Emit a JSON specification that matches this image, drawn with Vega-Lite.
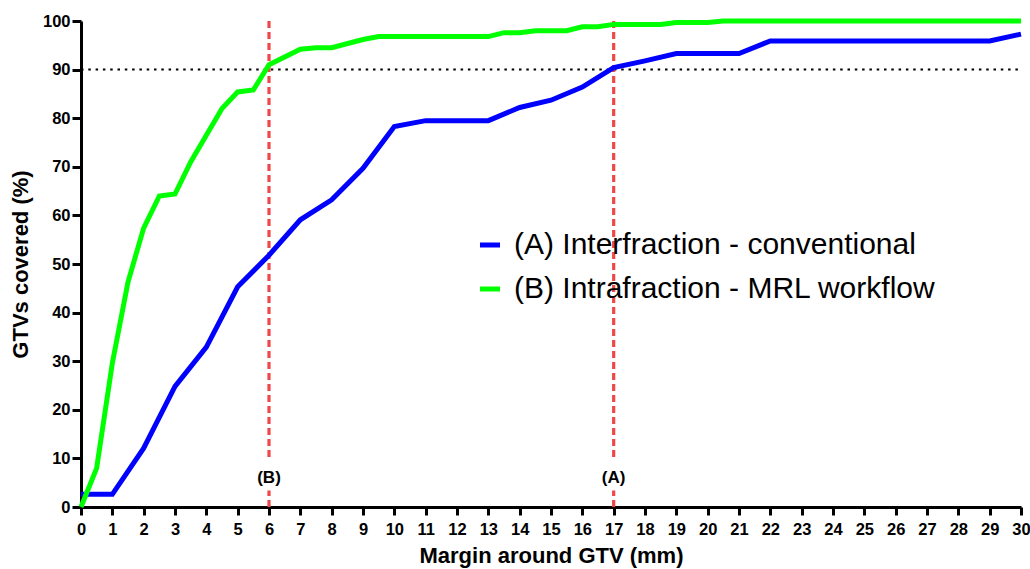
{
  "$schema": "https://vega.github.io/schema/vega-lite/v6.json",
  "width": 940,
  "height": 486,
  "autosize": "none",
  "padding": {"left": 81, "top": 21, "right": 9, "bottom": 62},
  "background": "white",
  "config": {
    "view": {"stroke": null},
    "legend": {
      "orient": "none",
      "legendX": 394,
      "legendY": 209,
      "symbolType": "stroke",
      "symbolStrokeWidth": 5,
      "symbolSize": 400,
      "labelFont": "Liberation Sans",
      "labelFontSize": 30,
      "labelColor": "black",
      "labelLimit": 700,
      "rowPadding": 14,
      "labelOffset": 9,
      "padding": 0
    }
  },
  "datasets": {
    "curves": [
      {"series": "(A) Interfraction - conventional", "x": 0, "y": 2.6},
      {"series": "(A) Interfraction - conventional", "x": 1, "y": 2.6},
      {"series": "(A) Interfraction - conventional", "x": 2, "y": 12.1},
      {"series": "(A) Interfraction - conventional", "x": 3, "y": 24.8},
      {"series": "(A) Interfraction - conventional", "x": 4, "y": 32.9},
      {"series": "(A) Interfraction - conventional", "x": 5, "y": 45.3},
      {"series": "(A) Interfraction - conventional", "x": 6, "y": 51.8},
      {"series": "(A) Interfraction - conventional", "x": 7, "y": 59.1},
      {"series": "(A) Interfraction - conventional", "x": 8, "y": 63.2},
      {"series": "(A) Interfraction - conventional", "x": 9, "y": 69.7},
      {"series": "(A) Interfraction - conventional", "x": 10, "y": 78.3},
      {"series": "(A) Interfraction - conventional", "x": 11, "y": 79.5},
      {"series": "(A) Interfraction - conventional", "x": 13, "y": 79.5},
      {"series": "(A) Interfraction - conventional", "x": 14, "y": 82.2},
      {"series": "(A) Interfraction - conventional", "x": 15, "y": 83.7},
      {"series": "(A) Interfraction - conventional", "x": 16, "y": 86.4},
      {"series": "(A) Interfraction - conventional", "x": 17, "y": 90.4},
      {"series": "(A) Interfraction - conventional", "x": 18, "y": 91.8},
      {"series": "(A) Interfraction - conventional", "x": 19, "y": 93.3},
      {"series": "(A) Interfraction - conventional", "x": 21, "y": 93.3},
      {"series": "(A) Interfraction - conventional", "x": 22, "y": 95.9},
      {"series": "(A) Interfraction - conventional", "x": 29, "y": 95.9},
      {"series": "(A) Interfraction - conventional", "x": 30, "y": 97.3},
      {"series": "(B) Intrafraction - MRL workflow", "x": 0, "y": 0},
      {"series": "(B) Intrafraction - MRL workflow", "x": 0.5, "y": 8.0},
      {"series": "(B) Intrafraction - MRL workflow", "x": 1, "y": 29.6},
      {"series": "(B) Intrafraction - MRL workflow", "x": 1.5, "y": 46.3},
      {"series": "(B) Intrafraction - MRL workflow", "x": 2, "y": 57.4},
      {"series": "(B) Intrafraction - MRL workflow", "x": 2.5, "y": 64.0},
      {"series": "(B) Intrafraction - MRL workflow", "x": 3, "y": 64.4},
      {"series": "(B) Intrafraction - MRL workflow", "x": 3.5, "y": 71.0},
      {"series": "(B) Intrafraction - MRL workflow", "x": 4, "y": 76.5},
      {"series": "(B) Intrafraction - MRL workflow", "x": 4.5, "y": 82.0},
      {"series": "(B) Intrafraction - MRL workflow", "x": 5, "y": 85.4},
      {"series": "(B) Intrafraction - MRL workflow", "x": 5.5, "y": 85.8},
      {"series": "(B) Intrafraction - MRL workflow", "x": 6, "y": 91.0},
      {"series": "(B) Intrafraction - MRL workflow", "x": 7, "y": 94.2},
      {"series": "(B) Intrafraction - MRL workflow", "x": 7.5, "y": 94.5},
      {"series": "(B) Intrafraction - MRL workflow", "x": 8, "y": 94.5},
      {"series": "(B) Intrafraction - MRL workflow", "x": 9, "y": 96.2},
      {"series": "(B) Intrafraction - MRL workflow", "x": 9.5, "y": 96.8},
      {"series": "(B) Intrafraction - MRL workflow", "x": 13, "y": 96.8},
      {"series": "(B) Intrafraction - MRL workflow", "x": 13.5, "y": 97.6},
      {"series": "(B) Intrafraction - MRL workflow", "x": 14, "y": 97.6},
      {"series": "(B) Intrafraction - MRL workflow", "x": 14.5, "y": 98.0},
      {"series": "(B) Intrafraction - MRL workflow", "x": 15.5, "y": 98.0},
      {"series": "(B) Intrafraction - MRL workflow", "x": 16, "y": 98.8},
      {"series": "(B) Intrafraction - MRL workflow", "x": 16.5, "y": 98.8},
      {"series": "(B) Intrafraction - MRL workflow", "x": 17, "y": 99.3},
      {"series": "(B) Intrafraction - MRL workflow", "x": 18.5, "y": 99.3},
      {"series": "(B) Intrafraction - MRL workflow", "x": 19, "y": 99.7},
      {"series": "(B) Intrafraction - MRL workflow", "x": 20, "y": 99.7},
      {"series": "(B) Intrafraction - MRL workflow", "x": 20.5, "y": 100},
      {"series": "(B) Intrafraction - MRL workflow", "x": 30, "y": 100}
    ],
    "threshold": [{"x": 0, "x2": 30, "y": 90}],
    "refs": [
      {"x": 6, "y": 10.3, "y2": 100},
      {"x": 6, "y": 0, "y2": 3.4},
      {"x": 17, "y": 10.3, "y2": 100},
      {"x": 17, "y": 0, "y2": 3.4}
    ],
    "reflabels": [
      {"x": 6, "y": 6.0, "label": "(B)"},
      {"x": 17, "y": 6.0, "label": "(A)"}
    ]
  },
  "encoding": {
    "x": {
      "field": "x",
      "type": "quantitative",
      "scale": {"domain": [0, 30], "nice": false, "zero": false},
      "axis": {
        "title": "Margin around GTV (mm)",
        "values": [0,0.5,1,1.5,2,2.5,3,3.5,4,4.5,5,5.5,6,6.5,7,7.5,8,8.5,9,9.5,10,10.5,11,11.5,12,12.5,13,13.5,14,14.5,15,15.5,16,16.5,17,17.5,18,18.5,19,19.5,20,20.5,21,21.5,22,22.5,23,23.5,24,24.5,25,25.5,26,26.5,27,27.5,28,28.5,29,29.5,30],
        "format": "d",
        "labelExpr": "datum.value % 1 === 0 ? datum.label : ''",
        "labelOverlap": false,
        "labelFlush": false,
        "tickSize": {"condition": {"test": "datum.value % 1 === 0", "value": 8}, "value": 4},
        "labelPadding": 6,
        "titlePadding": 8,
        "grid": false,
        "domainColor": "black",
        "domainWidth": 3,
        "tickColor": "black",
        "tickWidth": 3,
        "labelFont": "Liberation Sans",
        "labelFontWeight": "bold",
        "labelFontSize": 16.5,
        "labelColor": "black",
        "titleFont": "Liberation Sans",
        "titleFontWeight": "bold",
        "titleFontSize": 22,
        "titleColor": "black"
      }
    },
    "y": {
      "field": "y",
      "type": "quantitative",
      "scale": {"domain": [0, 100], "nice": false},
      "axis": {
        "title": "GTVs covered (%)",
        "values": [0,10,20,30,40,50,60,70,80,90,100],
        "tickSize": 9,
        "labelPadding": 2,
        "titlePadding": 10,
        "grid": false,
        "domainColor": "black",
        "domainWidth": 3,
        "tickColor": "black",
        "tickWidth": 3,
        "labelFont": "Liberation Sans",
        "labelFontWeight": "bold",
        "labelFontSize": 16.5,
        "labelColor": "black",
        "titleFont": "Liberation Sans",
        "titleFontWeight": "bold",
        "titleFontSize": 22,
        "titleColor": "black"
      }
    }
  },
  "layer": [
    {
      "data": {"name": "threshold"},
      "mark": {"type": "rule", "color": "black", "strokeWidth": 2, "strokeDash": [2.5, 4.8]},
      "encoding": {"x2": {"field": "x2"}}
    },
    {
      "data": {"name": "refs"},
      "mark": {"type": "rule", "color": "#f04848", "strokeWidth": 3.2, "strokeDash": [7, 4]},
      "encoding": {"y2": {"field": "y2"}}
    },
    {
      "data": {"name": "reflabels"},
      "mark": {"type": "text", "fontWeight": "bold", "fontSize": 17, "font": "Liberation Sans", "color": "black", "baseline": "middle", "align": "center"},
      "encoding": {"text": {"field": "label"}}
    },
    {
      "data": {"name": "curves"},
      "mark": {"type": "line", "strokeWidth": 5, "strokeJoin": "miter"},
      "encoding": {
        "color": {
          "field": "series",
          "type": "nominal",
          "scale": {"domain": ["(A) Interfraction - conventional", "(B) Intrafraction - MRL workflow"], "range": ["#0000ff", "#00ff00"]},
          "legend": {"title": null}
        }
      }
    }
  ]
}
